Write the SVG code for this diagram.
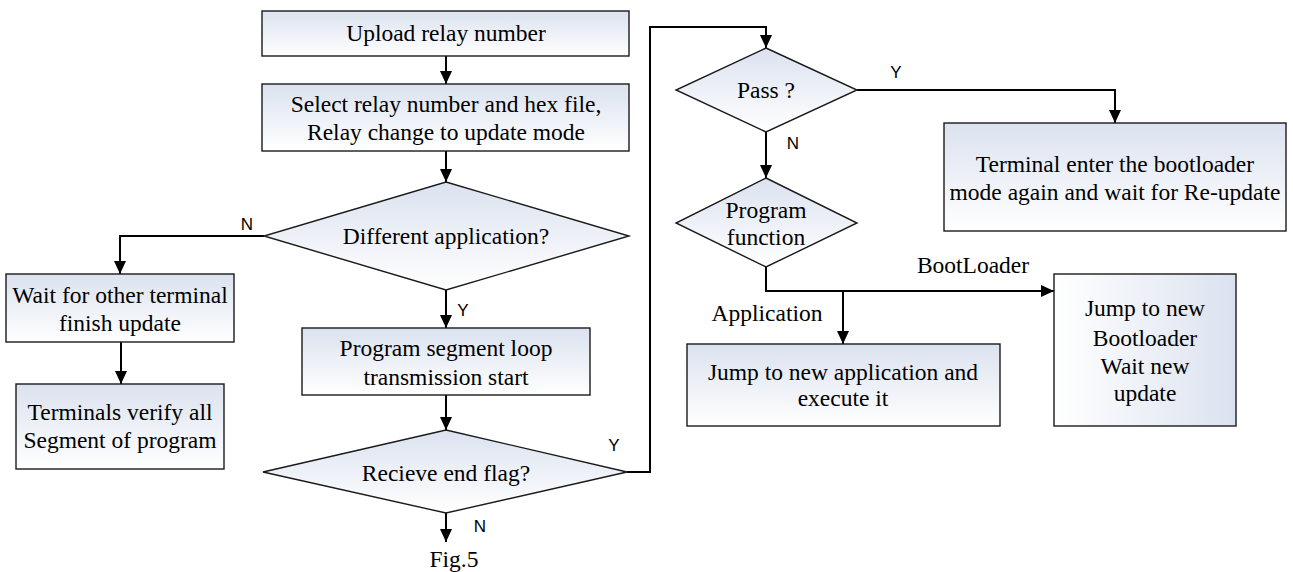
<svg xmlns="http://www.w3.org/2000/svg" width="1293" height="572" viewBox="0 0 1293 572">
<style>
.box{stroke:#1a1a1a;stroke-width:1.4;fill:url(#gv)}
.boxh{stroke:#1a1a1a;stroke-width:1.4;fill:url(#gh)}
.t{font-family:"Liberation Serif","Times New Roman",serif;font-size:23.5px;fill:#000;text-anchor:middle}
.l{font-family:"Liberation Sans",Arial,sans-serif;font-size:17px;fill:#000;text-anchor:middle}
.c{fill:none;stroke:#000;stroke-width:2}
</style>
<defs>
<linearGradient id="gv" x1="0" y1="0" x2="0" y2="1">
<stop offset="0" stop-color="#dbe2ef"/>
<stop offset="1" stop-color="#ffffff"/>
</linearGradient>
<linearGradient id="gh" x1="0" y1="0" x2="1" y2="0">
<stop offset="0" stop-color="#ffffff"/>
<stop offset="1" stop-color="#dbe2ef"/>
</linearGradient>
<marker id="ah" markerUnits="userSpaceOnUse" markerWidth="14" markerHeight="12" refX="13" refY="6" orient="auto">
<path d="M0,0 L13,6 L0,12 z" fill="#000"/>
</marker>
</defs>
<rect width="1293" height="572" fill="#fff"/>
<g id="connectors">
<path class="c" d="M446,56 V84" marker-end="url(#ah)"/>
<path class="c" d="M446,151 V182" marker-end="url(#ah)"/>
<path class="c" d="M264,236 H120 V274" marker-end="url(#ah)"/>
<path class="c" d="M121,342 V384" marker-end="url(#ah)"/>
<path class="c" d="M446,290 V328" marker-end="url(#ah)"/>
<path class="c" d="M446,395 V430" marker-end="url(#ah)"/>
<path class="c" d="M446,513 V542" marker-end="url(#ah)"/>
<path class="c" d="M627,472 H650 V27 H766 V48" marker-end="url(#ah)"/>
<path class="c" d="M857,90 H1115 V123" marker-end="url(#ah)"/>
<path class="c" d="M766,132 V178" marker-end="url(#ah)"/>
<path class="c" d="M766,267 V291 H1054" marker-end="url(#ah)"/>
<path class="c" d="M843,291 V344" marker-end="url(#ah)"/>
<text class="l" x="247" y="230">N</text>
<text class="l" x="463" y="316">Y</text>
<text class="l" x="614" y="451">Y</text>
<text class="l" x="480" y="532">N</text>
<text class="l" x="896" y="78">Y</text>
<text class="l" x="793" y="149">N</text>
<text class="t" x="973" y="273">BootLoader</text>
<text class="t" x="767" y="321">Application</text>
</g>
<g id="upload">
<rect class="box" x="262" y="11" width="367" height="45"/>
<text class="t" x="446" y="41">Upload relay number</text>
</g>
<g id="select">
<rect class="box" x="262" y="84" width="367" height="67"/>
<text class="t" x="446" y="112">Select relay number and hex file,</text>
<text class="t" x="446" y="140">Relay change to update mode</text>
</g>
<g id="different">
<polygon class="box" points="446,182 629,236 446,290 264,236"/>
<text class="t" x="446" y="244">Different application?</text>
</g>
<g id="wait">
<rect class="box" x="6" y="274" width="228" height="68"/>
<text class="t" x="120" y="303">Wait for other terminal</text>
<text class="t" x="120" y="331">finish update</text>
</g>
<g id="verify">
<rect class="box" x="16" y="384" width="208" height="85"/>
<text class="t" x="120" y="420">Terminals verify all</text>
<text class="t" x="120" y="448">Segment of program</text>
</g>
<g id="segment">
<rect class="box" x="302" y="328" width="288" height="67"/>
<text class="t" x="446" y="356">Program segment loop</text>
<text class="t" x="446" y="385">transmission start</text>
</g>
<g id="endflag">
<polygon class="box" points="446,430 627,472 446,513 263,472"/>
<text class="t" x="446" y="481">Recieve end flag?</text>
</g>
<text class="t" x="454" y="567">Fig.5</text>
<g id="pass">
<polygon class="box" points="766,48 857,90 766,132 676,90"/>
<text class="t" x="766" y="98">Pass ?</text>
</g>
<g id="reupdate">
<rect class="box" x="944" y="123" width="342" height="108"/>
<text class="t" x="1115" y="172">Terminal enter the bootloader</text>
<text class="t" x="1115" y="200">mode again and wait for Re-update</text>
</g>
<g id="function">
<polygon class="box" points="766,178 857,223 766,267 676,223"/>
<text class="t" x="766" y="218">Program</text>
<text class="t" x="766" y="245">function</text>
</g>
<g id="newapp">
<rect class="box" x="687" y="344" width="313" height="82"/>
<text class="t" x="843" y="380">Jump to new application and</text>
<text class="t" x="843" y="406">execute it</text>
</g>
<g id="newboot">
<rect class="boxh" x="1054" y="274" width="182" height="152"/>
<text class="t" x="1145" y="316">Jump to new</text>
<text class="t" x="1145" y="346">Bootloader</text>
<text class="t" x="1145" y="374">Wait new</text>
<text class="t" x="1145" y="401">update</text>
</g>
</svg>
